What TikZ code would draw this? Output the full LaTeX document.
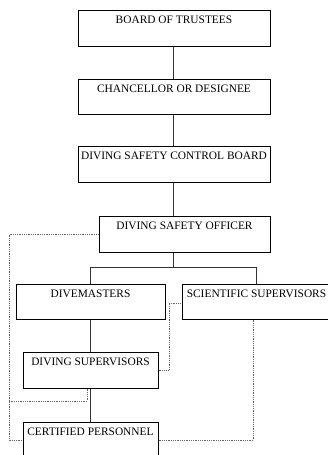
\documentclass[tikz,border=0pt]{standalone}
\usepackage{fontspec}
\setmainfont{Liberation Serif}
\begin{document}
\begin{tikzpicture}[x=1pt,y=-1pt,
  box/.style={draw=black, line width=1pt, rectangle, inner sep=0pt, minimum height=36pt},
  lbl/.style={anchor=north, inner sep=0pt, yshift=-6pt, font=\fontsize{11.4}{12}\selectfont},
  conn/.style={draw=black!80, line width=1pt},
  dots/.style={draw=black!60, line width=0.8pt, densely dotted}]
\useasboundingbox (0,0) rectangle (328,455);
\node[box, minimum width=192pt, label={[lbl]north:BOARD OF TRUSTEES}] (bot) at (174,28) {};
\node[box, minimum width=192pt, minimum height=35pt, label={[lbl]north:CHANCELLOR OR DESIGNEE}] (chan) at (174,96.5) {};
\node[box, minimum width=192pt, label={[lbl]north:DIVING SAFETY CONTROL BOARD}] (dscb) at (174,164) {};
\node[box, minimum width=171pt, label={[lbl]north:DIVING SAFETY OFFICER}] (dso) at (184.5,234) {};
\node[box, minimum width=149pt, minimum height=35pt, label={[lbl]north:DIVEMASTERS}] (dm) at (90.5,301.5) {};
\node[box, minimum width=149pt, minimum height=35pt, label={[lbl]north:SCIENTIFIC SUPERVISORS}] (ss) at (256.5,301.5) {};
\node[box, minimum width=135pt, label={[lbl]north:DIVING SUPERVISORS}] (dsup) at (90.5,370) {};
\node[box, minimum width=135pt, label={[lbl]north:CERTIFIED PERSONNEL}] (cp) at (90.5,440) {};
\coordinate (tx) at (173,0);
\coordinate (bar) at (0,267);
% solid connectors
\path[conn] (bot.south -| tx) -- (chan.north -| tx);
\path[conn] (chan.south -| tx) -- (dscb.north -| tx);
\path[conn] (dscb.south -| tx) -- (dso.north -| tx);
\path[conn] (dso.south -| tx) -- (tx |- bar);
\path[conn] (dm.north |- bar) -- (ss.north |- bar);
\path[conn] (dm.north |- bar) -- (dm.north);
\path[conn] (ss.north |- bar) -- (ss.north);
\path[conn] (dm.south) -- (dsup.north);
\path[conn] (dsup.south) -- (cp.north);
% dotted connectors
\coordinate (lx) at (9,0);
\path[dots] (dso.west) -- (lx |- dso.west) -- (lx |- cp.west) -- (cp.west);
\coordinate (ds1) at (87,0);
\path[dots] (ds1 |- dsup.south) -- (87,401) -- (lx |- 0,401);
\coordinate (mx) at (169,0);
\path[dots] (dsup.east) -- (mx |- dsup.east) -- (169,303) -- (ss.west |- 0,303);
\coordinate (sx) at (253,0);
\path[dots] (sx |- ss.south) -- (sx |- cp.east) -- (cp.east);
\end{tikzpicture}
\end{document}
